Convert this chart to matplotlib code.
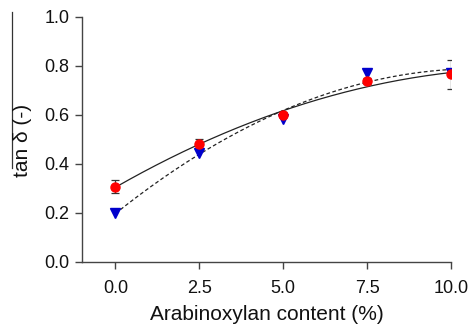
import numpy as np
import matplotlib.pyplot as plt
from matplotlib.lines import Line2D

plt.rcParams["font.family"] = ["Liberation Sans", "DejaVu Sans"]

content = [0.0, 2.5, 5.0, 7.5, 10.0]
tan_red = [0.307, 0.482, 0.600, 0.737, 0.765]
tan_red_err = [0.027, 0.02, 0.01, 0.012, 0.06]
tan_blue = [0.200, 0.446, 0.585, 0.772, 0.772]
xticks = [0.0, 2.5, 5.0, 7.5, 10.0]
yticks = [0.0, 0.2, 0.4, 0.6, 0.8, 1.0]

fig = plt.figure(figsize=(4.68, 3.25), dpi=100)
ax = fig.add_axes([0.175, 0.194, 0.789, 0.754])

# quadratic fits
xs = np.linspace(0, 10, 200)
p_red = np.polyfit(content, tan_red, 2)
p_blue = np.polyfit(content, tan_blue, 2)
ax.plot(xs, np.polyval(p_red, xs), color="#222222", lw=0.9, ls="-")
ax.plot(xs, np.polyval(p_blue, xs), color="#222222", lw=0.9, ls=(0, (3, 2)))

ax.errorbar(content, tan_red, yerr=tan_red_err, fmt="none", ecolor="#333333",
            elinewidth=0.9, capsize=3, capthick=0.9)
ax.plot(content, tan_blue, ls="none", marker="v", color="#0000cc", ms=6.5)
ax.plot(content, tan_red, ls="none", marker="o", color="#ff0000", ms=6.5)

ax.set_xlim(-1, 10)
ax.set_ylim(0, 1.0)
ax.set_xticks(xticks)
ax.set_xticklabels([f"{t:.1f}" for t in xticks])
ax.set_yticks(yticks)
ax.set_yticklabels([f"{t:.1f}" for t in yticks])
for s in ["top", "right"]:
    ax.spines[s].set_visible(False)
for s in ["left", "bottom"]:
    ax.spines[s].set_color("#444444")
    ax.spines[s].set_linewidth(1.0)
ax.tick_params(direction="out", length=5, width=1.0, color="#444444",
               labelsize=13, labelcolor="#111111", pad=4)
ax.tick_params(axis="x", pad=8)

ax.set_xlabel("Arabinoxylan content (%)", fontsize=15, color="#111111", labelpad=6)
fig.text(0.049, 0.569, "tan δ (-)", rotation=90, fontsize=15, color="#111111",
         ha="center", va="center")
fig.add_artist(Line2D([0.026, 0.026], [1 - 12 / 325, 1 - 168 / 325],
                      transform=fig.transFigure, color="#333333", lw=0.9))

fig.savefig("out.png", dpi=100)
